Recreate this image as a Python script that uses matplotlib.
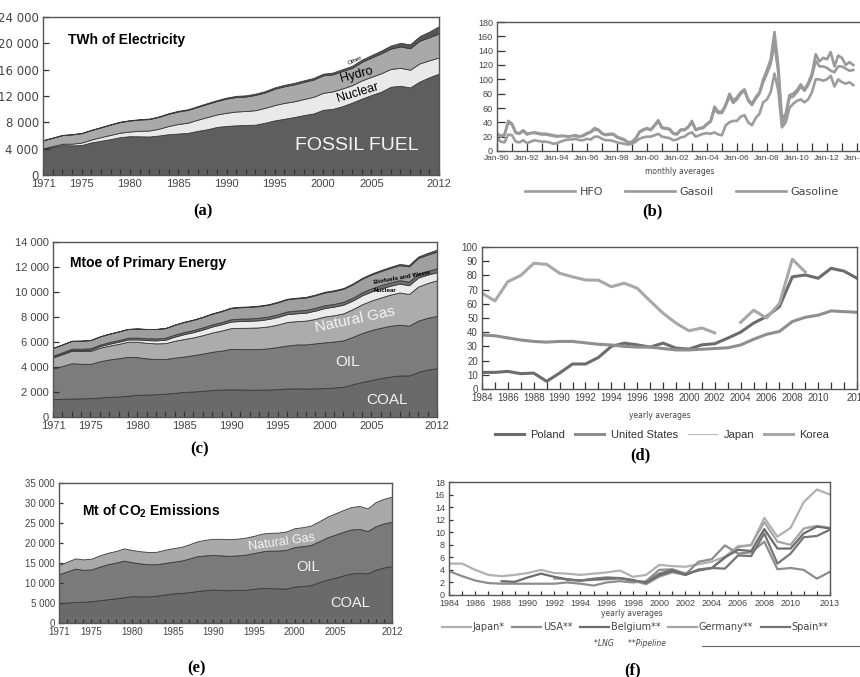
import numpy as np
import matplotlib.pyplot as plt
from matplotlib import font_manager
from matplotlib.lines import Line2D
from matplotlib.ticker import FixedLocator, MultipleLocator, FuncFormatter

plt.rcParams['font.family'] = ['Liberation Sans', 'DejaVu Sans']
plt.rcParams['mathtext.default'] = 'regular'

avail = {f.name for f in font_manager.fontManager.ttflist}
NARROW = 'Liberation Sans Narrow' if 'Liberation Sans Narrow' in avail else 'Liberation Sans'

# ---------------- data ----------------
years = list(range(1971, 2013))

# (a) world electricity generation, TWh
elec_fossil = [3950, 4250, 4550, 4500, 4550, 4950, 5200, 5450, 5750, 5900,
               5880, 5850, 6000, 6200, 6300, 6400, 6700, 6950, 7300, 7450,
               7550, 7600, 7650, 7950, 8300, 8550, 8800, 9100, 9350, 9900,
               10050, 10450, 11000, 11600, 12150, 12650, 13400, 13550, 13300, 14200,
               14850, 15400]
elec_nuclear = [110, 150, 200, 260, 380, 440, 560, 650, 680, 710,
                840, 910, 1030, 1250, 1450, 1550, 1700, 1850, 1900, 2000,
                2100, 2120, 2200, 2260, 2330, 2410, 2390, 2440, 2530, 2590,
                2650, 2700, 2640, 2770, 2770, 2800, 2720, 2730, 2700, 2760,
                2580, 2460]
elec_hydro = [1200, 1250, 1300, 1400, 1420, 1430, 1470, 1560, 1620, 1660,
              1690, 1740, 1800, 1850, 1900, 1930, 1940, 2000, 2030, 2150,
              2200, 2200, 2320, 2340, 2480, 2520, 2570, 2600, 2620, 2650,
              2590, 2640, 2640, 2810, 2920, 3030, 3080, 3250, 3250, 3440,
              3500, 3650]
elec_other = [40, 42, 45, 48, 50, 52, 55, 58, 60, 65,
              70, 75, 80, 90, 100, 110, 120, 130, 140, 160,
              170, 180, 190, 200, 210, 220, 230, 240, 245, 250,
              270, 290, 310, 340, 370, 410, 460, 540, 600, 700,
              850, 1100]

# (b) monthly prices, read quarterly
b_start, b_step = 1990.0, 0.25
gasoil = [25, 20, 22, 42, 38, 26, 25, 29,
          24, 25, 26, 25, 24, 24, 23, 22,
          21, 21, 21, 20, 21, 22, 20, 22,
          25, 27, 32, 30, 25, 23, 24, 24,
          20, 18, 16, 12, 13, 18, 27, 30,
          32, 30, 36, 43, 33, 32, 31, 25,
          24, 30, 30, 34, 42, 30, 32, 33,
          38, 42, 62, 55, 55, 65, 80, 70,
          75, 82, 86, 72, 66, 75, 82, 100,
          113, 128, 166, 120, 45, 52, 78, 80,
          85, 93, 86, 95, 108, 135, 125, 130,
          128, 138, 118, 133, 130, 120, 124, 120]
gasoline = [24, 21, 23, 40, 37, 25, 24, 28,
            23, 25, 25, 24, 23, 23, 22, 21,
            20, 21, 21, 20, 21, 21, 20, 21,
            24, 26, 30, 29, 24, 22, 23, 23,
            19, 17, 15, 12, 12, 17, 26, 29,
            31, 29, 35, 41, 32, 31, 30, 24,
            23, 29, 29, 33, 40, 29, 31, 32,
            37, 41, 58, 53, 53, 63, 76, 67,
            72, 80, 84, 70, 64, 73, 80, 96,
            108, 122, 150, 110, 36, 48, 74, 76,
            82, 90, 84, 92, 104, 126, 118, 118,
            116, 112, 110, 118, 118, 115, 112, 113]
hfo = [18, 13, 12, 23, 22, 13, 12, 15,
       11, 13, 15, 14, 13, 13, 12, 10,
       11, 13, 15, 16, 16, 17, 15, 15,
       17, 16, 20, 20, 17, 15, 15, 14,
       12, 11, 10, 9, 10, 13, 17, 19,
       20, 20, 22, 24, 20, 19, 18, 15,
       16, 19, 20, 24, 26, 20, 22, 24,
       25, 24, 26, 23, 22, 36, 40, 42,
       42, 48, 50, 40, 36, 46, 52, 68,
       72, 82, 108, 85, 33, 40, 60, 66,
       70, 72, 68, 72, 82, 100, 100, 98,
       100, 105, 90, 100, 96, 94, 96, 92]

# (c) primary energy, Mtoe
pe_coal = [1440, 1450, 1480, 1490, 1510, 1560, 1610, 1640, 1700, 1780,
           1790, 1820, 1860, 1930, 2010, 2040, 2100, 2160, 2190, 2220,
           2200, 2180, 2190, 2200, 2230, 2280, 2290, 2280, 2290, 2310,
           2360, 2420, 2620, 2800, 2960, 3110, 3230, 3330, 3320, 3600,
           3790, 3900]
pe_oil = [2440, 2630, 2820, 2770, 2740, 2900, 2990, 3060, 3110, 3010,
          2900, 2820, 2780, 2820, 2830, 2910, 2970, 3060, 3120, 3230,
          3230, 3250, 3240, 3300, 3370, 3440, 3510, 3530, 3600, 3660,
          3680, 3710, 3790, 3920, 4000, 4030, 4070, 4050, 3990, 4110,
          4150, 4190]
pe_gas = [895, 950, 1000, 1020, 1030, 1080, 1110, 1150, 1210, 1230,
          1240, 1250, 1270, 1350, 1400, 1420, 1480, 1540, 1610, 1660,
          1700, 1710, 1740, 1750, 1800, 1880, 1870, 1900, 1960, 2070,
          2100, 2160, 2220, 2300, 2360, 2420, 2490, 2580, 2530, 2730,
          2780, 2850]
pe_nuclear = [29, 38, 53, 62, 100, 120, 150, 170, 180, 186,
              220, 240, 270, 330, 390, 420, 450, 480, 500, 526,
              550, 560, 570, 590, 608, 630, 625, 640, 660, 675,
              690, 695, 690, 715, 721, 728, 709, 712, 703, 719,
              674, 642]
pe_hydro = [104, 108, 110, 120, 122, 123, 126, 133, 140, 148,
            150, 155, 160, 163, 167, 170, 170, 175, 175, 184,
            190, 190, 200, 200, 213, 215, 220, 222, 224, 225,
            220, 225, 225, 241, 250, 260, 265, 275, 278, 295,
            300, 316]
pe_bio = [620, 625, 630, 640, 650, 660, 670, 690, 700, 720,
          735, 750, 770, 785, 800, 815, 830, 850, 870, 900,
          910, 920, 930, 940, 955, 970, 980, 990, 1005, 1020,
          1030, 1045, 1070, 1090, 1110, 1130, 1160, 1200, 1230, 1270,
          1300, 1340]
pe_other = [6, 6, 7, 7, 8, 9, 9, 10, 10, 12,
            14, 16, 18, 21, 25, 28, 30, 32, 35, 37,
            39, 40, 42, 44, 46, 48, 50, 53, 56, 60,
            62, 64, 67, 70, 74, 79, 85, 95, 105, 120,
            135, 150]

# (d) yearly averages 1984-2013
d_years = list(range(1984, 2014))
poland = [11.7, 11.7, 12.4, 10.8, 11.2, 5.4, 11.2, 17.6, 17.6, 22.2,
          30.0, 32.3, 31.1, 29.5, 32.3, 28.8, 28.1, 31.1, 31.9, 35.8,
          40.0, 46.4, 51.0, 58.0, 79.0, 80.3, 78.0, 85.0, 83.0, 78.0]
united_states = [38.0, 37.5, 36.0, 34.5, 33.5, 33.0, 33.5, 33.5, 32.5, 31.5,
                 31.0, 30.0, 29.5, 29.5, 28.5, 27.5, 27.5, 28.0, 28.5, 29.0,
                 31.0, 35.0, 38.5, 40.5, 47.5, 50.5, 52.0, 55.0, 54.5, 54.0]
korea_years = list(range(1984, 2003)) + [None] + list(range(2004, 2010))
korea = [67.5, 62.0, 75.6, 80.0, 88.5, 87.8, 81.5, 79.0, 76.8, 76.6,
         72.0, 74.5, 71.0, 62.0, 53.4, 46.4, 41.0, 43.0, 39.5, None,
         46.9, 55.5, 50.0, 60.2, 91.4, 82.4]

# (f) gas prices 1984-2013
f_years = list(range(1984, 2014))
japan_f = [5.0, 5.0, 4.0, 3.2, 3.0, 3.2, 3.5, 4.0, 3.5, 3.4,
           3.2, 3.4, 3.6, 3.9, 2.9, 3.2, 4.8, 4.6, 4.5, 4.9,
           5.3, 6.1, 7.8, 7.9, 12.3, 9.3, 10.7, 14.8, 16.8, 16.0]
usa_f = [3.8, 3.0, 2.3, 1.9, 1.8, 1.8, 1.8, 1.8, 1.8, 2.0,
         1.8, 1.5, 2.0, 2.2, 2.0, 2.2, 4.0, 4.1, 3.3, 5.3,
         5.7, 7.9, 6.6, 6.8, 8.5, 4.1, 4.3, 4.0, 2.6, 3.7]
belgium_years = list(range(1988, 2014))
belgium_f = [2.2, 2.1, 2.8, 3.4, 2.9, 2.5, 2.3, 2.5, 2.6, 2.7,
             2.4, 1.9, 3.1, 3.8, 3.2, 4.0, 4.3, 6.0, 7.2, 7.0,
             10.5, 7.4, 7.4, 9.8, 10.9, 10.6]
germany_years = list(range(1992, 2014))
germany_f = [2.6, 2.5, 2.3, 2.4, 2.5, 2.6, 2.3, 1.7, 2.9, 3.6,
             3.2, 4.1, 4.3, 5.9, 7.6, 8.0, 11.6, 8.5, 8.0, 10.6,
             11.0, 10.7]
spain_years = list(range(1993, 2014))
spain_f = [2.4, 2.3, 2.6, 2.8, 2.7, 2.3, 2.0, 3.4, 4.0, 3.4,
           3.9, 4.3, 4.2, 6.3, 6.2, 9.8, 5.0, 6.6, 9.2, 9.4, 10.4]

# (e) CO2 emissions, Mt
co2_coal = [5000, 5100, 5250, 5300, 5450, 5700, 5950, 6150, 6450, 6700,
            6650, 6650, 6850, 7100, 7400, 7500, 7700, 8000, 8200, 8370,
            8250, 8200, 8250, 8300, 8550, 8750, 8700, 8650, 8600, 9100,
            9250, 9450, 10200, 10800, 11300, 11900, 12400, 12500, 12400, 13300,
            13900, 14200]
co2_oil = [7200, 7800, 8350, 8000, 7950, 8400, 8750, 8950, 9150, 8500,
           8250, 8050, 7850, 7900, 7900, 8100, 8400, 8700, 8700, 8630,
           8650, 8600, 8650, 8800, 8950, 9150, 9400, 9450, 9700, 9900,
           9950, 10050, 10200, 10600, 10800, 10900, 11000, 11000, 10600, 10900,
           11000, 11100]
co2_gas = [2300, 2400, 2550, 2600, 2700, 2800, 2850, 2900, 3050, 3050,
           3050, 3050, 3100, 3300, 3400, 3400, 3550, 3700, 3900, 4050,
           4150, 4150, 4200, 4250, 4300, 4450, 4450, 4500, 4600, 4700,
           4750, 4850, 5000, 5150, 5300, 5450, 5600, 5750, 5650, 6050,
           6150, 6300]

# ---------------- figure ----------------
W, H = 860, 677
fig = plt.figure(figsize=(W / 100, H / 100), dpi=100)


def box(l, t, r, b):
    return fig.add_axes([l / W, 1 - b / H, (r - l) / W, (b - t) / H])


def ftext(x, y, s, **kw):
    kw.setdefault('ha', 'center')
    kw.setdefault('va', 'center')
    return fig.text(x / W, 1 - y / H, s, **kw)


thousands = FuncFormatter(lambda v, p: f'{int(v):,}'.replace(',', ' '))


def style(ax, size=7.5, tlen=4, yfont=None, ysize=None):
    for s in ax.spines.values():
        s.set_color('#555555')
        s.set_linewidth(1.0)
    ax.tick_params(which='both', direction='in', length=tlen, width=0.9,
                   color='#333333', labelcolor='#444444', labelsize=size, pad=3)
    for lab in ax.get_xticklabels():
        lab.set_family(NARROW)
    for lab in ax.get_yticklabels():
        lab.set_family(yfont or NARROW)
        if ysize:
            lab.set_fontsize(ysize)


def caption(x, y, s):
    ftext(x, y, s, fontsize=12, family='Liberation Serif', fontweight='bold')


edge = dict(edgecolor='#3a3a3a', linewidth=0.6)
area_ticks = [1971, 1975, 1980, 1985, 1990, 1995, 2000, 2005, 2012]

# (a) electricity
ax = box(43, 17, 439, 175)
ax.stackplot(years, elec_fossil, elec_nuclear, elec_hydro, elec_other,
             colors=['#5e5e5e', '#e9e9e9', '#a9a9a9', '#555555'], **edge)
ax.set_xlim(1971, 2012)
ax.set_ylim(0, 24000)
ax.yaxis.set_major_locator(MultipleLocator(4000))
ax.yaxis.set_major_formatter(thousands)
ax.xaxis.set_major_locator(FixedLocator(area_ticks))
ax.xaxis.set_minor_locator(MultipleLocator(1))
style(ax, 8, yfont='DejaVu Sans', ysize=8.5)
ftext(68, 40, 'TWh of Electricity', ha='left', fontsize=10, fontweight='bold')
ftext(357, 145, 'FOSSIL FUEL', fontsize=14, color='#f4f4f4')
ftext(358, 93, 'Nuclear', fontsize=9, rotation=17)
ftext(357, 75, 'Hydro', fontsize=9, rotation=15)
ftext(355, 60, 'Other', fontsize=4.5, rotation=25)
caption(203, 211, '(a)')

# (b) prices
t_b = [b_start + b_step * i for i in range(len(gasoil))]
ax = box(497, 22, 870, 151)
ax.plot(t_b, hfo, color='#9c9c9c', lw=1.9, label='HFO')
ax.plot(t_b, gasoline, color='#9a9a9a', lw=1.9, label='Gasoline')
ax.plot(t_b, gasoil, color='#999999', lw=1.9, label='Gasoil')
ax.set_xlim(1990, 2014.87)
ax.set_ylim(0, 180)
ax.yaxis.set_major_locator(MultipleLocator(20))
ax.set_xticks(list(range(1990, 2015, 2)))
ax.set_xticklabels([f'Jan-{y % 100:02d}' for y in range(1990, 2015, 2)])
ax.xaxis.set_minor_locator(MultipleLocator(1))
style(ax, 6.5, 6)
ax.tick_params(axis='x', labelsize=6)
h = {l.get_label(): l for l in ax.get_lines()}
fig.legend([h['HFO'], h['Gasoil'], h['Gasoline']], ['HFO', 'Gasoil', 'Gasoline'],
           loc='center', bbox_to_anchor=(682 / W, 1 - 192 / H), ncol=3, frameon=False,
           handlelength=4.5, handletextpad=0.4, columnspacing=2.0,
           prop={'family': 'DejaVu Sans', 'size': 8}, labelcolor='#444444')
ftext(680, 172, 'monthly averages', fontsize=5.5, color='#444444', family='DejaVu Sans')
caption(652, 211, '(b)')

# (c) primary energy
ax = box(53, 242, 437, 417)
ax.stackplot(years, pe_coal, pe_oil, pe_gas, pe_nuclear, pe_hydro, pe_bio, pe_other,
             colors=['#6a6a6a', '#7c7c7c', '#acacac', '#ececec', '#707070', '#9f9f9f', '#585858'],
             **edge)
ax.set_xlim(1971, 2012)
ax.set_ylim(0, 14000)
ax.yaxis.set_major_locator(MultipleLocator(2000))
ax.yaxis.set_major_formatter(thousands)
ax.xaxis.set_major_locator(FixedLocator(area_ticks))
ax.xaxis.set_minor_locator(MultipleLocator(1))
style(ax, 8)
ftext(70, 263, 'Mtoe of Primary Energy', ha='left', fontsize=10, fontweight='bold')
ftext(355, 320, 'Natural Gas', fontsize=11, rotation=12, color='#f4f4f4')
ftext(348, 362, 'OIL', fontsize=11, color='#f4f4f4')
ftext(387, 400, 'COAL', fontsize=11, color='#f4f4f4')
ftext(402, 278, 'Biofuels and Waste', fontsize=4.5, rotation=10, fontweight='bold')
ftext(385, 291, 'Nuclear', fontsize=4.5, fontweight='bold')
caption(200, 449, '(c)')

# (d)
ax = box(482, 247, 857, 389)
ax.plot(d_years, poland, color='#6c6c6c', lw=2.2, label='Poland')
ax.plot(d_years, united_states, color='#8e8e8e', lw=2.2, label='United States')
ax.plot(korea_years, korea, color='#a8a8a8', lw=2.2, label='Korea')
japan_handle = Line2D([], [], color='#b8b8b8', lw=0.8)
ax.set_xlim(1984, 2013)
ax.set_ylim(0, 100)
ax.yaxis.set_major_locator(MultipleLocator(10))
ax.set_xticks(list(range(1984, 2011, 2)) + [2013])
ax.xaxis.set_minor_locator(MultipleLocator(1))
style(ax, 7, 5)
h = {l.get_label(): l for l in ax.get_lines()}
fig.legend([h['Poland'], h['United States'], japan_handle, h['Korea']],
           ['Poland', 'United States', 'Japan', 'Korea'],
           loc='center', bbox_to_anchor=(662 / W, 1 - 435 / H), ncol=4, frameon=False,
           handlelength=2.6, handletextpad=0.6, columnspacing=0.9,
           prop={'size': 8}, labelcolor='#333333')
ftext(660, 416, 'yearly averages', fontsize=5.5, color='#444444', family='DejaVu Sans')
caption(640, 455, '(d)')

# (e) CO2
ax = box(59, 483, 392, 623)
ax.stackplot(years, co2_coal, co2_oil, co2_gas,
             colors=['#6a6a6a', '#7a7a7a', '#a9a9a9'], **edge)
ax.set_xlim(1971, 2012)
ax.set_ylim(0, 35000)
ax.yaxis.set_major_locator(MultipleLocator(5000))
ax.yaxis.set_major_formatter(thousands)
ax.xaxis.set_major_locator(FixedLocator(area_ticks))
ax.xaxis.set_minor_locator(MultipleLocator(1))
style(ax, 7, 3)
ftext(82, 511, 'Mt of CO$_2$ Emissions', ha='left', fontsize=10, fontweight='bold')
ftext(282, 542, 'Natural Gas', fontsize=9, rotation=8, color='#f4f4f4')
ftext(308, 567, 'OIL', fontsize=10.5, color='#f4f4f4')
ftext(350, 603, 'COAL', fontsize=10.5, color='#f4f4f4')
caption(196, 668, '(e)')

# (f)
ax = box(449, 482, 830, 595)
ax.plot(f_years, japan_f, color='#b0b0b0', lw=1.6, label='Japan*')
ax.plot(f_years, usa_f, color='#8c8c8c', lw=1.6, label='USA**')
ax.plot(germany_years, germany_f, color='#a4a4a4', lw=1.6, label='Germany**')
ax.plot(belgium_years, belgium_f, color='#6c6c6c', lw=1.6, label='Belgium**')
ax.plot(spain_years, spain_f, color='#747474', lw=1.6, label='Spain**')
ax.set_xlim(1984, 2013)
ax.set_ylim(0, 18)
ax.yaxis.set_major_locator(MultipleLocator(2))
ax.set_xticks(list(range(1984, 2011, 2)) + [2013])
ax.xaxis.set_minor_locator(MultipleLocator(1))
style(ax, 6.5, 3)
h = {l.get_label(): l for l in ax.get_lines()}
order = ['Japan*', 'USA**', 'Belgium**', 'Germany**', 'Spain**']
fig.legend([h[k] for k in order], order,
           loc='center', bbox_to_anchor=(635 / W, 1 - 627 / H), ncol=5, frameon=False,
           handlelength=3.0, handletextpad=0.15, columnspacing=0.8,
           prop={'family': 'DejaVu Sans', 'size': 7}, labelcolor='#444444')
ftext(632, 613, 'yearly averages', fontsize=5.5, color='#444444', family='DejaVu Sans')
ftext(630, 644, '*LNG      **Pipeline', fontsize=5.5, color='#444444',
      family='DejaVu Sans', style='italic')
fig.add_artist(Line2D([702 / W, 1.0], [1 - 646 / H, 1 - 646 / H], color='#666666', lw=0.8))
caption(633, 670, '(f)')

fig.savefig('out.png', dpi=100)
